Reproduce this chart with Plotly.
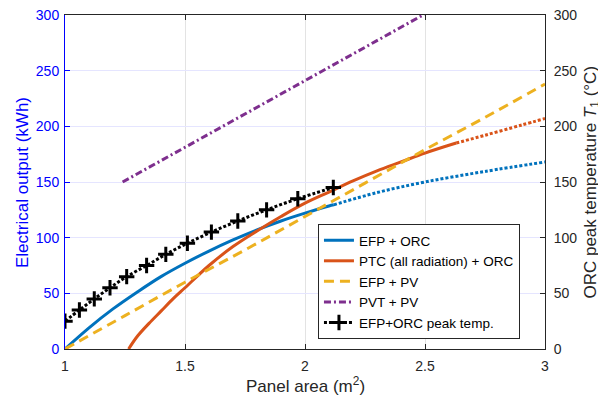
import plotly.graph_objects as go

# ---- data ----
area_efp_orc = [1.0, 1.1, 1.2, 1.3, 1.4, 1.5, 1.6, 1.7, 1.8, 1.9, 2.0, 2.1, 2.12]
elec_efp_orc = [0, 19, 36, 51, 65, 77, 88, 98, 107, 115, 122, 128.5, 129.5]
area_efp_orc_ext = [2.12, 2.3, 2.5, 2.75, 3.0]
elec_efp_orc_ext = [129.5, 140.5, 150, 159.5, 168]

area_ptc = [1.265, 1.3, 1.35, 1.4, 1.45, 1.5, 1.6, 1.7, 1.8, 1.9, 2.0, 2.1, 2.2, 2.3, 2.4, 2.5, 2.63]
elec_ptc = [0, 11, 23, 34, 45, 55, 75, 92, 106, 119, 131, 141, 151, 160, 168, 176, 185]
area_ptc_ext = [2.63, 2.75, 2.9, 3.0]
elec_ptc_ext = [185, 192, 201, 207]

area_efp_pv = [1.0, 1.25, 1.5, 1.75, 2.0, 2.25, 2.5, 2.75, 3.0]
elec_efp_pv = [0, 30, 60, 89, 119, 149, 179, 208, 238]

area_pvt_pv = [1.24, 1.5, 1.75, 2.0, 2.25, 2.5]
elec_pvt_pv = [150, 181, 211, 241, 271, 301]

area_peak = [1.0, 1.06, 1.122, 1.1875, 1.257, 1.34, 1.42, 1.51, 1.61, 1.72, 1.84, 1.97, 2.118]
temp_peak = [25, 35, 45, 55, 65, 75, 85, 95, 105, 115, 125, 135, 145]

x_ticks = [1, 1.5, 2, 2.5, 3]
x_tick_text = ["1", "1.5", "2", "2.5", "3"]
y_ticks = [0, 50, 100, 150, 200, 250, 300]

BLUE = "#0072BD"
ORANGE = "#D95319"
YELLOW = "#EDB120"
PURPLE = "#7E2F8E"
DARK = "#262626"
AXBLUE = "#0000FF"
FONT = "Liberation Sans, Arial, sans-serif"
DOT = "3px,2px"

fig = go.Figure()
fig.add_trace(go.Scatter(x=area_efp_orc, y=elec_efp_orc, mode="lines", name="EFP + ORC",
                         line=dict(color=BLUE, width=3, shape="spline")))
fig.add_trace(go.Scatter(x=area_efp_orc_ext, y=elec_efp_orc_ext, mode="lines", showlegend=False,
                         line=dict(color=BLUE, width=3, dash=DOT, shape="spline")))
fig.add_trace(go.Scatter(x=area_ptc, y=elec_ptc, mode="lines", name="PTC (all radiation) + ORC",
                         line=dict(color=ORANGE, width=3, shape="spline")))
fig.add_trace(go.Scatter(x=area_ptc_ext, y=elec_ptc_ext, mode="lines", showlegend=False,
                         line=dict(color=ORANGE, width=3, dash=DOT, shape="spline")))
fig.add_trace(go.Scatter(x=area_efp_pv, y=elec_efp_pv, mode="lines", name="EFP + PV",
                         line=dict(color=YELLOW, width=3, dash="10px,6px", shape="spline")))
fig.add_trace(go.Scatter(x=area_pvt_pv, y=elec_pvt_pv, mode="lines", name="PVT + PV",
                         line=dict(color=PURPLE, width=3, dash="7px,3px,2px,3px")))
fig.add_trace(go.Scatter(x=area_peak, y=temp_peak, mode="lines+markers", name="EFP+ORC peak temp.",
                         yaxis="y2",
                         line=dict(color="black", width=3, dash=DOT, shape="spline"),
                         marker=dict(symbol="cross-thin", size=11, color="black",
                                     line=dict(color="black", width=3))))

# page body has an 8px margin, so the figure is sized to fit inside the 606x403 window
fig.update_layout(
    width=598, height=395,
    margin=dict(l=57, r=61, t=7, b=54, autoexpand=False),
    paper_bgcolor="white", plot_bgcolor="white",
    font=dict(family=FONT, size=13, color=DARK),
    xaxis=dict(range=[1, 3], tickvals=x_ticks, ticktext=x_tick_text, automargin=False,
               ticks="inside", ticklen=5, tickcolor=DARK, tickwidth=1,
               showline=True, linecolor=DARK, linewidth=1, mirror="ticks",
               showgrid=True, gridcolor="#E3E3E3", gridwidth=1, zeroline=False,
               ticklabeloverflow="allow", ticklabelstandoff=4,
               tickfont=dict(size=14, color=DARK)),
    yaxis=dict(range=[0, 300], tickvals=y_ticks, automargin=False,
               ticks="inside", ticklen=5, tickcolor=AXBLUE, tickwidth=1,
               showline=True, linecolor=AXBLUE, linewidth=1,
               showgrid=True, gridcolor="#E5E5FF", gridwidth=1, zeroline=False,
               ticklabeloverflow="allow", ticklabelstandoff=2,
               tickfont=dict(size=14, color=AXBLUE)),
    yaxis2=dict(range=[0, 300], tickvals=y_ticks, overlaying="y", side="right", automargin=False,
                ticks="inside", ticklen=5, tickcolor=DARK, tickwidth=1,
                showline=True, linecolor=DARK, linewidth=1,
                showgrid=False, zeroline=False,
                ticklabeloverflow="allow", ticklabelstandoff=5,
                tickfont=dict(size=14, color=DARK)),
    legend=dict(x=0.527, y=0.03, xanchor="left", yanchor="bottom",
                bgcolor="white", bordercolor=DARK, borderwidth=1,
                font=dict(size=13.5, color="black"), tracegroupgap=0),
    showlegend=True,
    annotations=[
        dict(text="Panel area (m<sup>2</sup>)", xref="paper", yref="paper", x=0.5, y=-0.108,
             xanchor="center", yanchor="middle", showarrow=False,
             font=dict(size=17, color=DARK, family=FONT)),
        dict(text="Electrical output (kWh)", xref="paper", yref="paper", x=-0.0896, y=0.5,
             xanchor="center", yanchor="middle", showarrow=False, textangle=-90,
             font=dict(size=17, color=AXBLUE, family=FONT)),
        dict(text="ORC peak temperature <i>T</i><sub>1</sub> (°C)", xref="paper", yref="paper",
             x=1.097, y=0.5, xanchor="center", yanchor="middle", showarrow=False, textangle=-90,
             font=dict(size=17, color=DARK, family=FONT)),
    ],
)

fig.write_html("out.html")
